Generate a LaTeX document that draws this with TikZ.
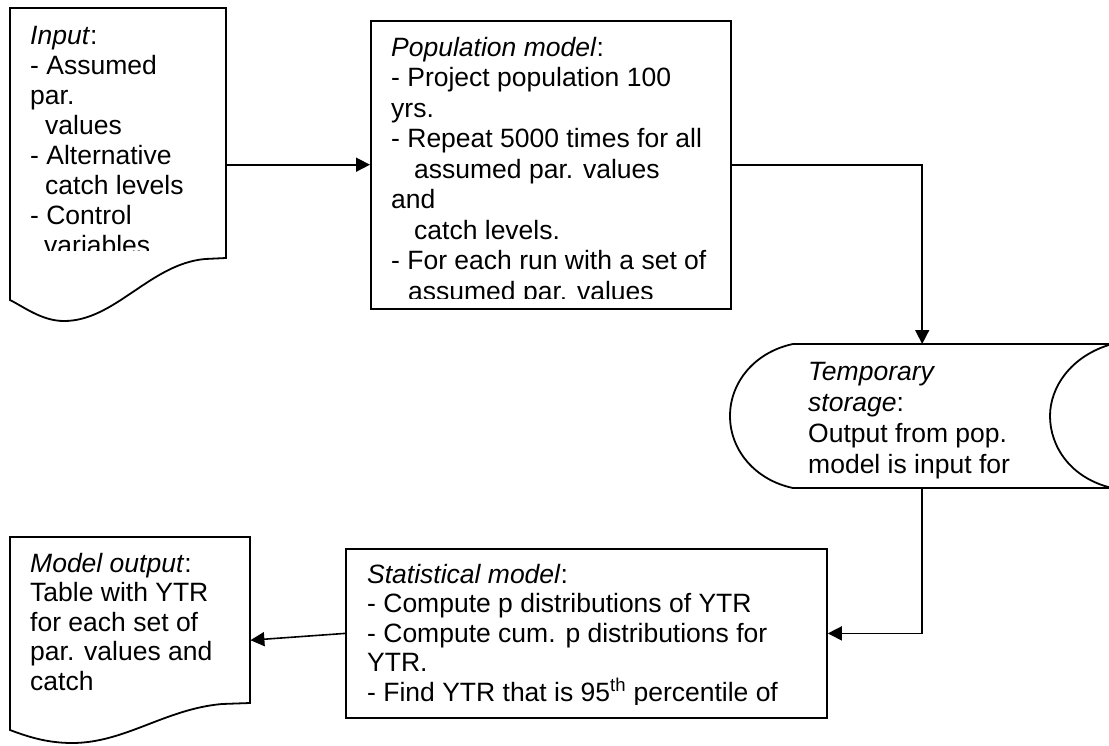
\documentclass[tikz,border=0pt]{standalone}
\usepackage{fontspec}
\setmainfont{Liberation Sans}
\usetikzlibrary{arrows.meta}
\newcommand\Lx[1]{\hbox{#1}}
\newcommand\Blk[2]{\vtop{\baselineskip=#1pt\relax\lineskiplimit=-100pt\relax#2}}
\begin{document}
\begin{tikzpicture}[x=1pt,y=-1pt,
  shp/.style={draw=black,line width=1.8pt,fill=white},
  boxnode/.style={shp,anchor=north west,inner sep=0pt},
  ghost/.style={draw=none,inner sep=0pt,anchor=north west},
  txt/.style={anchor=base west,inner sep=0pt,font=\fontsize{26.5}{30}\selectfont},
  conn/.style={line width=1.6pt,-{Triangle[length=14pt,width=14pt]}}]
\useasboundingbox (0,0) rectangle (1109,745);

% ---- shapes ----
\node[ghost,minimum width=216pt,minimum height=313pt] (in) at (10,8) {};
\draw[shp] (10,8) -- (226,8) -- (226,258) -- (205,259)
  .. controls (150,264) and (115,321) .. (64,321)
  .. controls (42,321) and (24,307) .. (10,300) -- cycle;

\node[boxnode,minimum width=360pt,minimum height=288pt] (pop) at (370,20) {};

\node[ghost,minimum width=379pt,minimum height=144pt] (tmp) at (730,344) {};
\draw[shp] (793,344) -- (1112,344)
  .. controls (1070,356) and (1050,388) .. (1050,416)
  .. controls (1050,446) and (1070,478) .. (1112,488)
  -- (793,488)
  .. controls (755,480) and (730,450) .. (730,416)
  .. controls (730,382) and (755,352) .. (793,344) -- cycle;

\node[boxnode,minimum width=481pt,minimum height=169pt] (stat) at (345,548) {};

\node[ghost,minimum width=240pt,minimum height=206pt] (out) at (10,537) {};
\draw[shp] (10,537) -- (250,537) -- (250,703) -- (222,704)
  .. controls (165,709) and (125,743) .. (72,743)
  .. controls (46,743) and (26,736) .. (10,730) -- cycle;

% ---- texts ----
\begin{scope}
\clip (12,10) rectangle (224,250);
\node[txt] (intext) at (30,44) {\Blk{30}{%
  \Lx{\textit{Input}:}\Lx{- Assumed}\Lx{par.}\Lx{\hspace*{15pt}values}%
  \Lx{- Alternative}\Lx{\hspace*{15pt}catch levels}\Lx{- Control}%
  \Lx{\hspace*{14pt}variables}}};
\end{scope}

\begin{scope}
\clip (372,22) rectangle (728,298);
\node[txt] (poptext) at (391,56) {\Blk{30.5}{%
  \Lx{\textit{Population model}:}\Lx{- Project population 100}\Lx{yrs.}%
  \Lx{- Repeat 5000 times for all}\Lx{\hspace*{23pt}assumed par. values}%
  \Lx{and}\Lx{\hspace*{23pt}catch levels.}\Lx{- For each run with a set of}%
  \Lx{\hspace*{17pt}assumed par. values}}};
\end{scope}

\node[txt] (tmptext) at (808,380) {\Blk{31}{%
  \Lx{\textit{Temporary}}\Lx{\textit{storage}:}\Lx{Output from pop.}%
  \Lx{model is input for}}};

\begin{scope}
\clip (347,550) rectangle (824,704);
\node[txt] (stattext) at (367,583) {\Blk{29.5}{%
  \Lx{\textit{Statistical model}:}\Lx{- Compute p distributions of YTR}%
  \Lx{- Compute cum. p distributions for}\Lx{YTR.}%
  \Lx{- Find YTR that is 95\textsuperscript{th} percentile of}}};
\end{scope}

\node[txt] (outtext) at (30,572) {\Blk{29.5}{%
  \Lx{\textit{Model output}:}\Lx{Table with YTR}\Lx{for each set of}%
  \Lx{par. values and}\Lx{catch}}};

% ---- connectors ----
\draw[conn] (in.east) -- (in.east -| pop.west);
\draw[conn] (pop.east) -| ([xshift=2.5pt]tmp.north);
\draw[conn] ([xshift=2.5pt]tmp.south) |- (stat.east);
\draw[conn] (stat.west) -- (out.east);
\end{tikzpicture}
\end{document}
